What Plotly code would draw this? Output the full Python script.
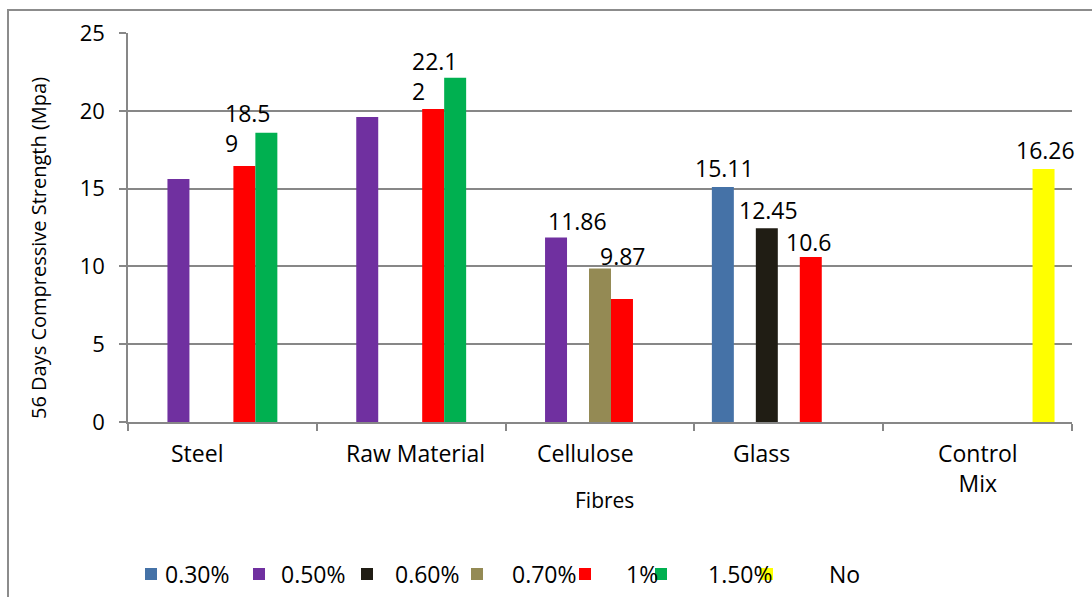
import plotly.graph_objects as go

# ---- data ----
fibres = ["Steel", "Raw Material", "Cellulose", "Glass", "Control Mix"]
fibre_tick_labels = ["Steel", "Raw Material", "Cellulose", "Glass", "Control<br>Mix"]
dosages = ["0.30%", "0.50%", "0.60%", "0.70%", "1%", "1.50%", "No"]

s_030 = [None, None, None, 15.11, None]
s_050 = [15.62, 19.60, 11.86, None, None]
s_060 = [None, None, None, 12.45, None]
s_070 = [None, None, 9.87, None, None]
s_100 = [16.45, 20.12, 7.90, 10.6, None]
s_150 = [18.59, 22.12, None, None, None]
s_none = [None, None, None, None, 16.26]
series_values = [s_030, s_050, s_060, s_070, s_100, s_150, s_none]

# bars that carry a value label: (fibre, dosage)
labelled = [("Steel", "1.50%"), ("Raw Material", "1.50%"), ("Cellulose", "0.50%"),
            ("Cellulose", "0.70%"), ("Glass", "0.30%"), ("Glass", "0.60%"),
            ("Glass", "1%"), ("Control Mix", "No")]

# ---- styling ----
colors = ["#4572A7", "#7030A0", "#201D14", "#948A54", "#FF0000", "#00B050", "#FFFF00"]
FONT = "Open Sans"
GRID = "#878787"
# label offsets in px (dx, dy) and whether the label wraps onto two lines
label_style = {
    ("Steel", "1.50%"): (-18, 5, True),
    ("Raw Material", "1.50%"): (-20, 2, True),
    ("Cellulose", "0.50%"): (21, 16, False),
    ("Cellulose", "0.70%"): (23, 12, False),
    ("Glass", "0.30%"): (2, 19, False),
    ("Glass", "0.60%"): (2, 18, False),
    ("Glass", "1%"): (-2, 15, False),
    ("Control Mix", "No"): (2, 19, False),
}
# horizontal nudge (px) of each category caption
category_label_dx = [-25, 4, -15, -27, 0]
CAPTION_TOP_PX = 435
BARGAP = 0.185
W, H = 1092, 597
ML, MR, MT, MB = 128, 20, 33, 175
PW, PH = W - ML - MR, H - MT - MB


def px_x(px):
    return (px - ML) / PW


def px_y(py):
    return (H - MB - py) / PH


fig = go.Figure()
for name, vals, col in zip(dosages, series_values, colors):
    fig.add_trace(go.Bar(x=fibres, y=vals, name=name, marker_color=col,
                         marker_line_width=0, showlegend=False))

# value labels placed over the grouped bar positions
slot = (1 - BARGAP) / len(dosages)
annotations = []
for fibre, dose in labelled:
    i = fibres.index(fibre)
    j = dosages.index(dose)
    v = series_values[j][i]
    txt = f"{v:g}"
    dx, dy, wrap = label_style[(fibre, dose)]
    if wrap and len(txt) > 4:
        txt = txt[:4] + "<br>" + txt[4:]
    annotations.append(dict(
        x=i + (j - (len(dosages) - 1) / 2) * slot, y=v, xref="x", yref="y",
        text=txt, showarrow=False, xanchor="center", yanchor="middle", align="left",
        xshift=dx, yshift=dy, font=dict(family=FONT, size=23, color="#000000"),
    ))

# category captions under the axis
for i, (lab, dx) in enumerate(zip(fibre_tick_labels, category_label_dx)):
    annotations.append(dict(
        x=i, y=px_y(CAPTION_TOP_PX), xref="x", yref="paper",
        text=lab, showarrow=False, xanchor="center", yanchor="top", xshift=dx,
        font=dict(family=FONT, size=23, color="#000000"),
    ))

# axis titles
annotations.append(dict(x=px_x(604), y=px_y(500), xref="paper", yref="paper",
                        text="Fibres", showarrow=False, xanchor="center", yanchor="middle",
                        font=dict(family=FONT, size=21, color="#000000")))
annotations.append(dict(x=px_x(38), y=px_y(248), xref="paper", yref="paper",
                        text="56 Days Compressive Strength (Mpa)", textangle=-90,
                        showarrow=False, xanchor="center", yanchor="middle",
                        font=dict(family=FONT, size=20, color="#000000")))

# legend drawn as swatches and labels along the bottom
legend_marker_px = [145, 253, 361, 471, 579, 655, 761]
legend_text_px = [163, 279, 393, 510, 624, 706, 827]
legend_y_px = 574
shapes = []
for name, col, mx, tx in zip(dosages, colors, legend_marker_px, legend_text_px):
    shapes.append(dict(type="rect", xref="paper", yref="paper",
                       x0=px_x(mx), x1=px_x(mx + 12),
                       y0=px_y(legend_y_px + 6), y1=px_y(legend_y_px - 6),
                       fillcolor=col, line=dict(width=0)))
    annotations.append(dict(x=px_x(tx), y=px_y(legend_y_px), xref="paper", yref="paper",
                            text=name, showarrow=False, xanchor="left", yanchor="middle",
                            font=dict(family=FONT, size=23, color="#000000")))

# outer chart frame
shapes.append(dict(type="rect", xref="paper", yref="paper",
                   x0=px_x(8), x1=px_x(W + 20), y0=px_y(H + 20), y1=px_y(10),
                   line=dict(color="#8C8C8C", width=2), fillcolor="rgba(0,0,0,0)",
                   layer="below"))

fig.update_layout(
    width=W, height=H,
    margin=dict(l=ML, r=MR, t=MT, b=MB, pad=0),
    paper_bgcolor="white", plot_bgcolor="white",
    barmode="group", bargap=BARGAP, bargroupgap=0,
    font=dict(family=FONT, size=22, color="#000000"),
    shapes=shapes, annotations=annotations,
    showlegend=False,
    xaxis=dict(
        type="category", categoryorder="array", categoryarray=fibres,
        tickvals=fibres, showticklabels=False,
        tickson="boundaries", ticks="outside", ticklen=7, tickcolor=GRID, tickwidth=1.5,
        showline=True, linecolor=GRID, linewidth=1.5,
        showgrid=False, range=[-0.5, 4.5],
    ),
    yaxis=dict(
        range=[0, 25], dtick=5, tick0=0,
        ticks="outside", ticklen=7, tickcolor=GRID, tickwidth=1.5,
        showline=True, linecolor=GRID, linewidth=1.5,
        showgrid=True, gridcolor=GRID, gridwidth=1.5,
        zeroline=False, ticklabelstandoff=10,
        tickfont=dict(family=FONT, size=22),
    ),
)

fig.write_html("out.html")
